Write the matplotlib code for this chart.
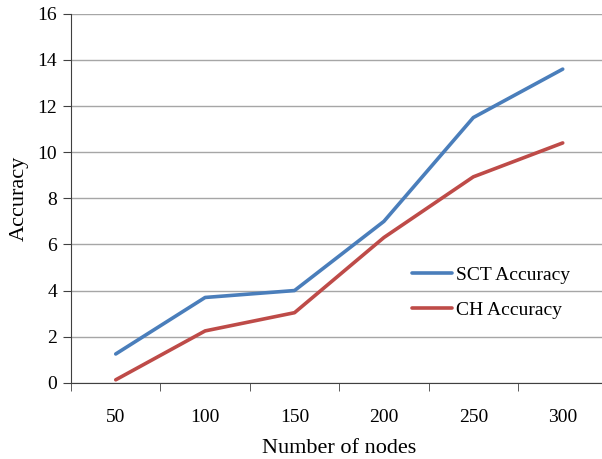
import numpy as np
import matplotlib.pyplot as plt

plt.rcParams['font.family'] = ['Liberation Serif', 'DejaVu Serif']

nodes = ['50', '100', '150', '200', '250', '300']
sct_acc = [1.25, 3.7, 4.0, 7.0, 11.5, 13.6]
ch_acc = [0.13, 2.25, 3.04, 6.3, 8.93, 10.4]

fig = plt.figure(figsize=(6.02, 4.59), dpi=100)
ax = fig.add_axes([0.118, 0.166, 0.891, 0.804])

x = np.arange(len(nodes))
ax.plot(x, sct_acc, color='#4a7ebb', linewidth=2.6, label='SCT Accuracy', solid_capstyle='round')
ax.plot(x, ch_acc, color='#be4b48', linewidth=2.6, label='CH Accuracy', solid_capstyle='round')

ax.set_xlim(-0.5, len(nodes) - 0.5)
ax.set_ylim(0, 16)
ax.set_yticks(np.arange(0, 17, 2))
ax.grid(axis='y', color='#a6a6a6', linewidth=1.0)
ax.set_axisbelow(True)

ax.set_xticks(x)
ax.set_xticklabels(nodes)
ax.set_xticks(np.arange(-0.5, len(nodes), 1), minor=True)
ax.tick_params(axis='x', which='major', length=0, pad=19, labelsize=14)
ax.tick_params(axis='x', which='minor', length=6, direction='out', color='#404040')
ax.tick_params(axis='y', length=6, direction='out', labelsize=14, color='#404040', pad=4)

for s in ['top', 'right']:
    ax.spines[s].set_visible(False)
for s in ['left', 'bottom']:
    ax.spines[s].set_color('#404040')

ax.set_xlabel('Number of nodes', fontsize=16, labelpad=9)
ax.set_ylabel('Accuracy', fontsize=16, labelpad=6)

ax.legend(loc='upper left', bbox_to_anchor=(412 / 602, 1 - 266 / 459),
          bbox_transform=fig.transFigure, frameon=False, fontsize=14,
          borderpad=0, borderaxespad=0, handlelength=2.05, handletextpad=0.2,
          labelspacing=0.92)

fig.savefig('out.png', dpi=100)
